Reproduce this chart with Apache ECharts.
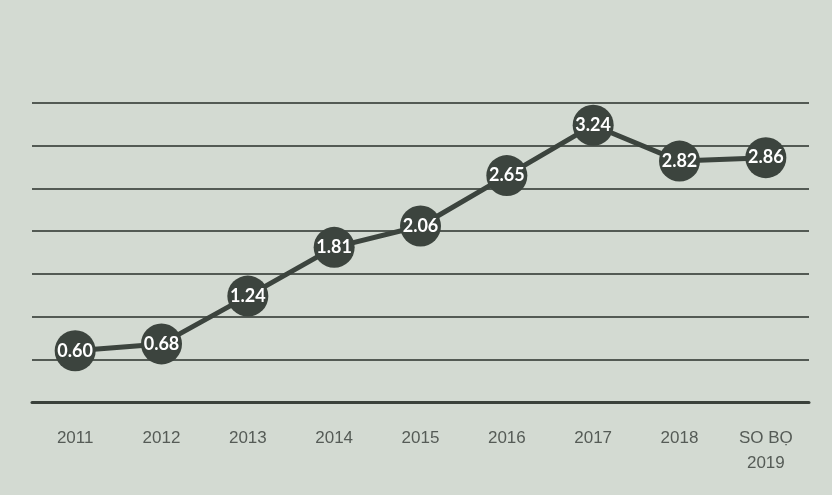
<!DOCTYPE html>
<html>
<head>
<meta charset="utf-8">
<script src="https://cdn.jsdelivr.net/npm/echarts@6/dist/echarts.min.js"></script>
<style>
html,body{margin:0;padding:0;background:#d3dad2;}
#c{width:832px;height:495px;}
</style>
</head>
<body>
<div id="c"></div>
<script>
var categories = ['2011','2012','2013','2014','2015','2016','2017','2018','SO BỌ\n2019'];
var values = [0.60, 0.68, 1.24, 1.81, 2.06, 2.65, 3.24, 2.82, 2.86];
var yTicks = {min: 0, max: 3.5, interval: 0.5};

var chart = echarts.init(document.getElementById('c'));
chart.setOption({
  backgroundColor: '#d3dad2',
  animation: false,
  grid: {left: 32, right: 23, top: 103, bottom: 93, containLabel: false},
  xAxis: {
    type: 'category',
    data: categories,
    boundaryGap: true,
    axisLine: {show: true, lineStyle: {color: '#3a413b', width: 3}},
    axisTick: {show: false},
    axisLabel: {color: '#555b56', fontSize: 17, fontFamily: 'Liberation Sans', margin: 24, lineHeight: 25}
  },
  yAxis: {
    type: 'value',
    min: yTicks.min, max: yTicks.max, interval: yTicks.interval,
    axisLabel: {show: false},
    axisLine: {show: false},
    axisTick: {show: false},
    splitLine: {show: true, lineStyle: {color: '#535a54', width: 2}}
  },
  series: [{
    type: 'line',
    data: values,
    symbol: 'circle',
    symbolSize: 41,
    lineStyle: {color: '#3c443e', width: 5},
    itemStyle: {color: '#3c443e'},
    label: {
      show: true, position: 'inside', color: '#ffffff',
      fontSize: 18, fontWeight: 'bold', fontFamily: 'Lato',
      formatter: function(p){ return p.value.toFixed(2); }
    },
    z: 3
  }]
});
</script>
</body>
</html>
